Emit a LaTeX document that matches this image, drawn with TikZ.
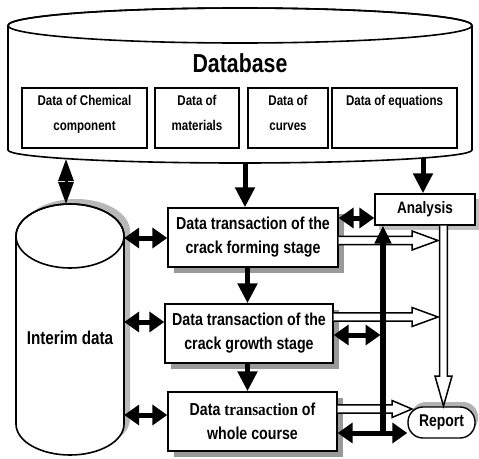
\documentclass[tikz,border=0pt]{standalone}
\usepackage{fontspec}
\setmainfont{Liberation Sans}[FakeStretch=0.82]
\newfontfamily\serifb{Liberation Serif}[FakeStretch=0.88]
\usetikzlibrary{arrows.meta,shadows,calc}
\newcommand{\hollowR}[5]{%
  \draw[hollow] ($(#1)+(0,-#3)$) -- ($(#2)+(-#4,-#3)$) -- ($(#2)+(-#4,-#5)$) -- (#2)
    -- ($(#2)+(-#4,#5)$) -- ($(#2)+(-#4,#3)$) -- ($(#1)+(0,#3)$);}
\newcommand{\hollowD}[5]{%
  \draw[hollow] ($(#1)+(-#3,0)$) -- ($(#2)+(-#3,-#4)$) -- ($(#2)+(-#5,-#4)$) -- (#2)
    -- ($(#2)+(#5,-#4)$) -- ($(#2)+(#3,-#4)$) -- ($(#1)+(#3,0)$);}
\begin{document}
\begin{tikzpicture}[x=1pt,y=-1pt,
  every node/.style={font=\bfseries},
  box/.style={draw,line width=1.4pt,fill=white,inner sep=0pt,align=center},
  tbox/.style={box,minimum width=170pt,minimum height=59pt,
    font=\bfseries\fontsize{17.3}{24}\selectfont,
    drop shadow={shadow xshift=6pt,shadow yshift=-6pt,fill=black!40,opacity=1}},
  dbox/.style={draw,line width=1.3pt,minimum height=60pt,inner sep=0pt},
  dtxt/.style={font=\bfseries\fontsize{14.1}{25}\selectfont,align=center,anchor=north,inner sep=0pt},
  blk/.style={line width=5pt,-{Triangle[length=20pt,width=19pt]}},
  dblk/.style={line width=5pt,{Triangle[length=15pt,width=20pt]}-{Triangle[length=15pt,width=20pt]}},
  hollow/.style={line width=1.5pt,fill=white,line join=miter},
  cyl/.style={line width=1.6pt}
]
\useasboundingbox (0,0) rectangle (479,458);

% ---------- Database cylinder ----------
\draw[cyl,fill=white] (8,25.5) -- (8,150)
  arc[start angle=180,end angle=360,x radius=232pt,y radius=13pt]
  -- (472,25.5) arc[start angle=0,end angle=180,x radius=232pt,y radius=17.5pt] -- cycle;
\draw[cyl] (240,25.5) ellipse [x radius=232pt,y radius=17.5pt];
\node[font=\bfseries\fontsize{26}{30}\selectfont] (db) at (240,63) {Database};

\node[dbox,minimum width=125pt] (d1) at (84.5,118) {};
\node[dbox,minimum width=84pt] (d2) at (197,118) {};
\node[dbox,minimum width=80pt] (d3) at (288,118) {};
\node[dbox,minimum width=125pt] (d4) at (394.5,118) {};
\node[dtxt] (t1) at ($(d1.north)+(0,8)$) {Data of Chemical\\component};
\node[dtxt] (t2) at ($(d2.north)+(0,8)$) {Data of\\materials};
\node[dtxt] (t3) at ($(d3.north)+(0,8)$) {Data of\\curves};
\node[dtxt] (t4) at ($(d4.north)+(0,8)$) {Data of equations};

% ---------- Interim cylinder ----------
\fill[black!28,shift={(6pt,5pt)}] (16,236) -- (16,424)
  arc[start angle=180,end angle=360,x radius=54pt,y radius=31pt]
  -- (124,236) arc[start angle=0,end angle=180,x radius=54pt,y radius=32pt] -- cycle;
\draw[cyl,fill=white] (16,236) -- (16,424)
  arc[start angle=180,end angle=360,x radius=54pt,y radius=31pt]
  -- (124,236) arc[start angle=0,end angle=180,x radius=54pt,y radius=32pt] -- cycle;
\draw[cyl] (70,236) ellipse [x radius=54pt,y radius=32pt];
\node[font=\bfseries\fontsize{18.6}{22}\selectfont,minimum width=108pt,minimum height=150pt,inner sep=0pt]
  (interim) at (70,338) {Interim data};

% ---------- Process boxes ----------
\node[tbox] (b1) at (253,237.5) {Data transaction of the\\crack forming stage};
\node[tbox,minimum width=168pt] (b2) at (249,333.5) {Data transaction of the\\crack growth stage};
\node[tbox,minimum width=169pt] (b3) at (252.5,421.5) {Data {\serifb transaction} of\\whole course};
\node[box,minimum width=100pt,minimum height=31pt,font=\bfseries\fontsize{16.5}{19}\selectfont,
  drop shadow={shadow xshift=4pt,shadow yshift=-5pt,fill=black!25,opacity=1}]
  (an) at (425,209.5) {Analysis};
\node[box,rounded corners=15pt,minimum width=67pt,minimum height=31pt,
  font=\bfseries\fontsize{17}{19}\selectfont,
  drop shadow={shadow xshift=3pt,shadow yshift=5pt,fill=black!30,opacity=1}]
  (rep) at (441.5,422.5) {Report};

% ---------- coordinates ----------
\coordinate (dbI) at (66,159);
\coordinate (inT) at (66,204);
\coordinate (dbB) at (245,163);
\coordinate (dbA) at (423,158);
\coordinate (xv) at (247.5,0);
\coordinate (y1) at (0,238);
\coordinate (y2) at (0,322);
\coordinate (y3) at (0,415);
\coordinate (ya) at (0,218);
\coordinate (h1) at (438,240.5);
\coordinate (h2) at (438,317);
\coordinate (h3) at (412,409);
\coordinate (hv) at (443.5,406);
\coordinate (vl) at (383,435);
\coordinate (yb2) at (380.5,335);
\coordinate (yb3) at (0,433);

% ---------- black arrows ----------
\draw[line width=3pt,{Triangle[length=22pt,width=15pt]}-{Triangle[length=22pt,width=15pt]}] (dbI) -- (inT);
\draw[blk] (dbB) -- (dbB |- b1.north);
\draw[blk] (dbA) -- (dbA |- an.north);
\draw[blk] (b1.south -| xv) -- (b2.north -| xv);
\draw[blk] (b2.south -| xv) -- (b3.north -| xv);
\draw[dblk] (interim.east |- y1) -- (b1.west |- y1);
\draw[dblk] (interim.east |- y2) -- (b2.west |- y2);
\draw[dblk] (interim.east |- y3) -- (b3.west |- y3);
\draw[dblk] (b1.east |- ya) -- (an.west |- ya);

% ---------- hollow arrows ----------
\hollowR{b1.east |- h1}{h1}{4.2}{26}{9.5}
\hollowR{b2.east |- h2}{h2}{4.2}{26}{9.5}
\hollowR{b3.east |- h3}{h3}{4.2}{20}{8.5}
\hollowD{an.south -| hv}{hv}{3.8}{30}{8.5}

% ---------- thick line to Analysis ----------
\draw[line width=5.5pt,-{Triangle[length=18pt,width=16pt]}] (vl) -- (vl |- an.south);
\draw[dblk] (b2.east |- yb2) -- (yb2);
\draw[dblk] (b3.east |- yb3) -- (rep.west |- yb3);
\end{tikzpicture}
\end{document}
